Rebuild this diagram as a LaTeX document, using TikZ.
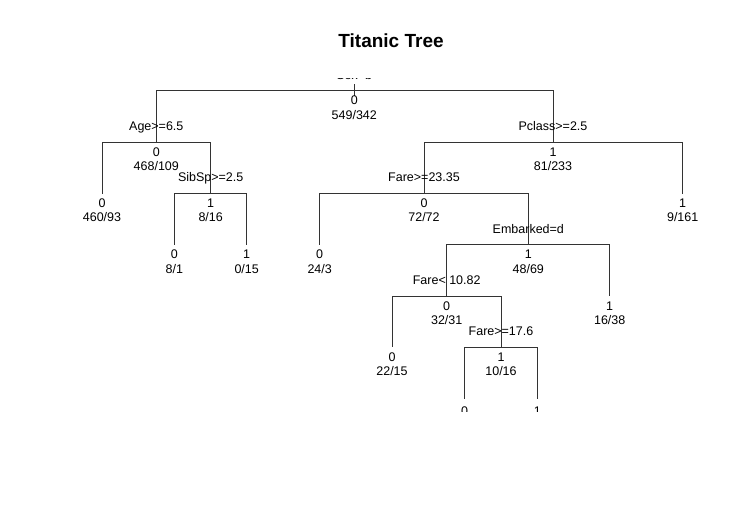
\documentclass[tikz,border=0pt]{standalone}
\usepackage{fontspec}
\setmainfont{Liberation Sans}
\usetikzlibrary{calc,positioning}

\tikzset{
  branch/.style={draw=black!80,line width=.75pt},
  val/.style={font=\fontsize{12.5}{14}\selectfont,inner sep=0pt,anchor=base},
  heading/.style={font=\bfseries\fontsize{19}{22}\selectfont,inner sep=0pt,anchor=base},
}

\begin{document}
\begin{tikzpicture}[x=1pt,y=-1pt]
    \useasboundingbox (0,0) rectangle (746,509);
    \node[heading] (title) at (391,47.5) {Titanic Tree};

    \begin{scope}
      \clip (0,78.3) rectangle (746,411);
      % split points and leaves
      \coordinate (root)   at (354.3,90.7);
      \coordinate (age)    at (156.3,142.3);
      \coordinate (pclass) at (553,142.3);
      \coordinate (leaf1)  at (102,193.5);
      \coordinate (sibsp)  at (210.7,193.5);
      \coordinate (fare)   at (424,193.5);
      \coordinate (leaf9)  at (682.7,193.5);
      \coordinate (leaf2)  at (174.3,244.8);
      \coordinate (leaf3)  at (246.7,244.8);
      \coordinate (leaf4)  at (319.7,244.8);
      \coordinate (embark) at (528.3,244.8);
      \coordinate (fareLo) at (446.7,296);
      \coordinate (leaf5)  at (609.7,296);
      \coordinate (leaf6)  at (392,347.3);
      \coordinate (fareHi) at (501,347.3);
      \coordinate (leaf7)  at (464.7,398.5);
      \coordinate (leaf8)  at (537.3,398.5);

      % branches
      \draw[branch] ([yshift=6.7pt]root) -- ([yshift=-5.3pt]root);
      \draw[branch] (root) -| (age);
      \draw[branch] (root) -| (pclass);
      \draw[branch] (age) -| (leaf1);
      \draw[branch] (age) -| (sibsp);
      \draw[branch] (sibsp) -| (leaf2);
      \draw[branch] (sibsp) -| (leaf3);
      \draw[branch] (pclass) -| (fare);
      \draw[branch] (pclass) -| (leaf9);
      \draw[branch] (fare) -| (leaf4);
      \draw[branch] (fare) -| (embark);
      \draw[branch] (embark) -| (fareLo);
      \draw[branch] (embark) -| (leaf5);
      \draw[branch] (fareLo) -| (leaf6);
      \draw[branch] (fareLo) -| (fareHi);
      \draw[branch] (fareHi) -| (leaf7);
      \draw[branch] (fareHi) -| (leaf8);

      % split labels
      \node[val] (root-s)   at ([yshift=11.6pt]root)   {Sex=b};
      \node[val] (age-s)    at ([yshift=11.6pt]age)    {Age>=6.5};
      \node[val] (pclass-s) at ([yshift=11.6pt]pclass) {Pclass>=2.5};
      \node[val] (sibsp-s)  at ([yshift=11.6pt]sibsp)  {SibSp>=2.5};
      \node[val] (fare-s)   at ([yshift=11.6pt]fare)   {Fare>=23.35};
      \node[val] (embark-s) at ([yshift=11.6pt]embark) {Embarked=d};
      \node[val] (fareLo-s) at ([yshift=11.6pt]fareLo) {Fare< 10.82};
      \node[val] (fareHi-s) at ([yshift=11.6pt]fareHi) {Fare>=17.6};

      % fitted class
      \node[val] (root-v)   at ([yshift=-14pt]root)   {0};
      \node[val] (age-v)    at ([yshift=-14pt]age)    {0};
      \node[val] (pclass-v) at ([yshift=-14pt]pclass) {1};
      \node[val] (leaf1-v)  at ([yshift=-14pt]leaf1)  {0};
      \node[val] (sibsp-v)  at ([yshift=-14pt]sibsp)  {1};
      \node[val] (fare-v)   at ([yshift=-14pt]fare)   {0};
      \node[val] (leaf9-v)  at ([yshift=-14pt]leaf9)  {1};
      \node[val] (leaf2-v)  at ([yshift=-14pt]leaf2)  {0};
      \node[val] (leaf3-v)  at ([yshift=-14pt]leaf3)  {1};
      \node[val] (leaf4-v)  at ([yshift=-14pt]leaf4)  {0};
      \node[val] (embark-v) at ([yshift=-14pt]embark) {1};
      \node[val] (fareLo-v) at ([yshift=-14pt]fareLo) {0};
      \node[val] (leaf5-v)  at ([yshift=-14pt]leaf5)  {1};
      \node[val] (leaf6-v)  at ([yshift=-14pt]leaf6)  {0};
      \node[val] (fareHi-v) at ([yshift=-14pt]fareHi) {1};
      \node[val] (leaf7-v)  at ([yshift=-16.5pt]leaf7)  {0};
      \node[val] (leaf8-v)  at ([yshift=-16.5pt]leaf8)  {1};

      % counts
      \node[val] (root-n)   at ([yshift=-28.4pt]root)   {549/342};
      \node[val] (age-n)    at ([yshift=-28.4pt]age)    {468/109};
      \node[val] (pclass-n) at ([yshift=-28.4pt]pclass) {81/233};
      \node[val] (leaf1-n)  at ([yshift=-28.4pt]leaf1)  {460/93};
      \node[val] (sibsp-n)  at ([yshift=-28.4pt]sibsp)  {8/16};
      \node[val] (fare-n)   at ([yshift=-28.4pt]fare)   {72/72};
      \node[val] (leaf9-n)  at ([yshift=-28.4pt]leaf9)  {9/161};
      \node[val] (leaf2-n)  at ([yshift=-28.4pt]leaf2)  {8/1};
      \node[val] (leaf3-n)  at ([yshift=-28.4pt]leaf3)  {0/15};
      \node[val] (leaf4-n)  at ([yshift=-28.4pt]leaf4)  {24/3};
      \node[val] (embark-n) at ([yshift=-28.4pt]embark) {48/69};
      \node[val] (fareLo-n) at ([yshift=-28.4pt]fareLo) {32/31};
      \node[val] (leaf5-n)  at ([yshift=-28.4pt]leaf5)  {16/38};
      \node[val] (leaf6-n)  at ([yshift=-28.4pt]leaf6)  {22/15};
      \node[val] (fareHi-n) at ([yshift=-28.4pt]fareHi) {10/16};
    \end{scope}
\end{tikzpicture}
\end{document}
